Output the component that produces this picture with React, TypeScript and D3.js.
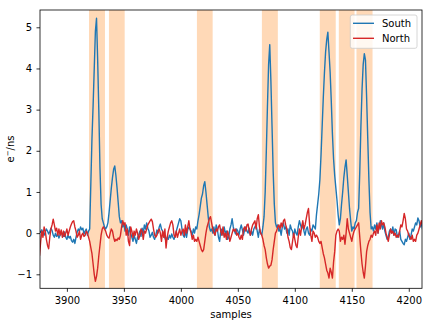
import React, { useEffect, useRef } from "react";
import * as d3 from "d3";

// sample index of the first value in each series
const firstSample = 3876;

// South detector rate (e-/ns), one value per sample
const south = [
  0.05, 0.02, 0.08, 0.0, -0.05, 0.03, 0.1, 0.05, -0.02, 0.04,
  0.12, 0.06, -0.05, -0.1, 0.0, -0.08, -0.02, -0.12, -0.05, 0.02,
  -0.04, -0.08, 0.03, -0.1, -0.15, -0.05, -0.12, -0.08, -0.18, -0.22,
  -0.15, -0.25, -0.1, 0.02, 0.1, 0.05, 0.15, 0.08, 0.12, -0.02,
  0.05, 0.1, -0.05, 0.05, 0.1, 1.2, 2.3, 3.1, 4.0, 4.9,
  5.22, 4.2, 3.0, 1.6, 0.7, 0.35, 0.25, 0.15, 0.1, 0.15,
  0.25, 0.5, 0.8, 1.1, 1.35, 1.55, 1.63, 1.4, 1.1, 0.75,
  0.4, 0.25, 0.3, 0.15, 0.25, 0.05, 0.2, 0.1, -0.05, 0.15,
  0.0, -0.1, -0.2, -0.05, -0.15, -0.25, -0.1, -0.05, 0.05, -0.08,
  0.12, 0.0, 0.2, 0.1, 0.25, 0.12, 0.05, -0.1, -0.05, 0.02,
  -0.1, -0.15, -0.05, 0.08, 0.0, 0.15, 0.22, 0.1, 0.05, -0.05,
  -0.12, -0.2, -0.1, -0.15, -0.05, -0.12, -0.02, -0.1, -0.15, -0.05,
  0.05, 0.15, 0.25, 0.35, 0.3, 0.1, -0.05, -0.1, 0.05, -0.1,
  0.08, 0.15, 0.1, 0.05, -0.05, 0.1, 0.0, 0.15, 0.1, 0.3,
  0.45, 0.65, 0.85, 0.95, 1.15, 1.25, 1.0, 0.7, 0.4, 0.15,
  0.05, 0.1, 0.0, 0.15, -0.05, 0.2, 0.1, -0.1, -0.2, 0.05,
  0.1, -0.05, 0.15, 0.0, 0.05, -0.15, -0.1, 0.1, 0.2, 0.35,
  0.15, 0.05, -0.02, 0.1, 0.05, -0.05, 0.1, 0.2, 0.08, -0.05,
  0.1, 0.15, 0.05, 0.0, 0.12, -0.05, 0.05, -0.05, 0.1, 0.15,
  0.2, 0.05, -0.1, 0.1, 0.0, -0.05, 0.15, 0.4, 1.0, 2.0,
  3.1, 4.1, 4.58, 3.7, 2.6, 1.5, 0.7, 0.25, 0.15, 0.2,
  0.05, 0.1, -0.05, 0.15, 0.25, 0.1, 0.15, 0.0, 0.1, -0.05,
  0.2, 0.1, 0.05, -0.1, 0.1, 0.0, -0.05, 0.15, 0.3, 0.2,
  0.1, 0.25, 0.05, -0.05, 0.1, 0.15, 0.0, -0.05, 0.1, 0.05,
  0.2, 0.15, 0.1, 0.45, 0.7, 0.95, 1.3, 1.9, 2.6, 3.3,
  3.9, 4.4, 4.7, 4.88, 4.4, 3.9, 3.2, 2.4, 1.8, 1.4,
  1.1, 0.8, 0.45, 0.2, 0.35, 0.7, 1.0, 1.35, 1.6, 1.78,
  1.4, 1.0, 0.6, 0.3, 0.05, 0.15, 0.1, 0.25, 0.3, 0.5,
  0.6, 1.5, 2.6, 3.5, 4.1, 4.36, 4.2, 3.3, 2.3, 1.3,
  0.5, 0.1, 0.15, 0.05, 0.2, 0.1, 0.25, 0.0, 0.15, 0.3,
  0.2, 0.1, 0.25, 0.05, -0.05, -0.15, -0.1, 0.05, 0.1, 0.0,
  0.15, -0.05, 0.1, 0.08, -0.1, -0.05, 0.05, -0.15, -0.2, -0.25,
  -0.28, -0.15, -0.2, -0.1, 0.0, -0.15, -0.05, 0.1, 0.05, 0.15,
  0.25, 0.2, 0.37, 0.3, 0.15, 0.25, 0.1, 0.15,
];

// North detector rate (e-/ns)
const north = [
  -0.55, -0.2, 0.05, -0.1, 0.15, 0.05, -0.15, -0.3, -0.38, -0.1,
  0.1, 0.2, 0.34, 0.2, 0.05, 0.12, -0.05, 0.1, -0.05, 0.08,
  -0.1, 0.05, -0.08, 0.0, 0.1, -0.05, 0.05, 0.15, 0.22, 0.28,
  0.3, 0.15, 0.05, -0.1, -0.05, 0.05, -0.15, -0.05, 0.0, -0.08,
  -0.05, 0.05, 0.0, -0.1, -0.2, -0.35, -0.5, -0.75, -1.0, -1.17,
  -1.05, -0.85, -0.55, -0.3, -0.05, 0.1, 0.15, 0.1, 0.05, -0.05,
  -0.1, -0.12, 0.0, 0.1, 0.05, -0.1, -0.2, -0.15, -0.18, -0.12,
  -0.15, -0.05, 0.15, 0.3, 0.2, 0.25, -0.05, 0.1, -0.2, -0.3,
  0.15, 0.05, -0.1, 0.05, -0.05, 0.1, 0.0, -0.15, -0.05, 0.1,
  0.05, -0.15, 0.05, 0.0, 0.1, 0.2, 0.25, 0.3, 0.34, 0.28,
  0.1, -0.05, -0.1, -0.05, 0.05, 0.1, 0.0, -0.2, 0.05, -0.1,
  0.1, -0.36, -0.1, 0.05, 0.15, 0.25, 0.3, 0.2, -0.05, -0.1,
  0.05, -0.1, 0.0, 0.1, -0.05, 0.05, 0.1, -0.05, 0.2, 0.0,
  0.15, 0.3, 0.1, 0.0, -0.15, -0.05, -0.2, -0.15, -0.2, -0.1,
  -0.2, -0.3, -0.4, -0.45, -0.4, -0.2, 0.0, 0.15, 0.25, 0.35,
  0.4, 0.25, 0.1, 0.0, -0.05, 0.1, 0.05, 0.15, 0.2, 0.05,
  -0.05, 0.15, -0.1, 0.0, -0.15, 0.05, -0.05, -0.2, -0.1, 0.0,
  0.1, 0.05, 0.1, -0.05, 0.0, -0.1, -0.15, -0.05, -0.15, 0.1,
  0.15, 0.05, 0.2, 0.22, 0.05, -0.05, 0.1, 0.2, 0.25, 0.3,
  0.1, 0.35, 0.45, 0.15, 0.0, -0.05, -0.15, -0.3, -0.4, -0.6,
  -0.75, -0.85, -0.8, -0.78, -0.65, -0.4, -0.2, 0.0, 0.05, 0.15,
  0.2, 0.1, 0.25, 0.15, 0.3, 0.34, 0.2, 0.1, -0.1, -0.2,
  -0.35, -0.4, -0.2, 0.0, -0.15, -0.3, -0.35, -0.1, 0.1, -0.05,
  0.15, 0.3, 0.1, 0.2, 0.35, 0.5, 0.6, 0.2, -0.05, -0.2,
  0.05, 0.0, -0.1, -0.05, -0.1, -0.2, -0.25, -0.2, -0.35, -0.5,
  -0.6, -0.75, -0.9, -0.97, -1.09, -0.85, -0.95, -1.09, -0.7, -0.45,
  -0.05, 0.05, 0.1, 0.05, -0.2, -0.1, -0.15, -0.05, -0.27, 0.0,
  0.35, 0.1, 0.0, -0.1, -0.2, -0.05, 0.05, 0.1, 0.15, 0.2,
  0.25, -0.1, -0.45, -0.75, -0.95, -1.09, -0.8, -0.45, -0.3, -0.2,
  -0.15, -0.05, -0.1, 0.0, 0.05, -0.05, 0.2, 0.0, 0.25, 0.1,
  0.3, 0.2, 0.25, 0.15, 0.0, -0.1, -0.2, -0.05, 0.1, 0.0,
  0.05, -0.05, 0.0, -0.1, -0.05, -0.1, 0.05, 0.2, 0.15, 0.3,
  0.48, 0.35, 0.1, 0.05, -0.05, -0.1, -0.15, -0.05, -0.2, -0.15,
  -0.2, -0.05, 0.0, 0.1, 0.2, 0.3, 0.2, 0.15,
];

// shaded windows [start, end] in samples
const spanStarts = [3919.4, 3936.9, 4014.1, 4071.1, 4121.9, 4138.6, 4154.1];
const spanEnds = [3933.4, 3950.7, 4027.9, 4085.1, 4135.9, 4152.4, 4168.2];

const xTicks = [3900, 3950, 4000, 4050, 4100, 4150, 4200];
const yTicks = [-1, 0, 1, 2, 3, 4, 5];
const seriesNames = ["South", "North"];
const seriesColors = ["#1f77b4", "#d62728"];

export default function App() {
  const ref = useRef<SVGSVGElement>(null);

  useEffect(() => {
    const svg = d3.select(ref.current);
    svg.selectAll("*").remove();
    const font = "DejaVu Sans, sans-serif";

    const left = 40, right = 422, top = 10, bottom = 288.3;
    const x = d3.scaleLinear().domain([3876.4, 4211.6]).range([left, right]);
    const y = d3.scaleLinear().domain([-1.34, 5.42]).range([bottom, top]);

    svg
      .append("defs")
      .append("clipPath")
      .attr("id", "plotclip")
      .append("rect")
      .attr("x", left)
      .attr("y", top)
      .attr("width", right - left)
      .attr("height", bottom - top);

    // shaded windows
    svg
      .append("g")
      .selectAll("rect")
      .data(spanStarts.map((s, i) => [s, spanEnds[i]]))
      .join("rect")
      .attr("x", (d) => x(d[0]))
      .attr("y", top)
      .attr("width", (d) => x(d[1]) - x(d[0]))
      .attr("height", bottom - top)
      .attr("fill", "#ffd9b7");

    const line = d3
      .line<number>()
      .x((d, i) => x(firstSample + i))
      .y((d) => y(d));

    const lines = svg.append("g").attr("clip-path", "url(#plotclip)");
    [south, north].forEach((vals, k) => {
      lines
        .append("path")
        .datum(vals)
        .attr("d", line)
        .attr("fill", "none")
        .attr("stroke", seriesColors[k])
        .attr("stroke-width", 1.4)
        .attr("stroke-linejoin", "round");
    });

    // axes
    const xAxis = svg
      .append("g")
      .attr("transform", `translate(0,${bottom})`)
      .call(d3.axisBottom(x).tickValues(xTicks).tickSize(3.5).tickPadding(5.5).tickFormat(d3.format("d")));
    const yAxis = svg
      .append("g")
      .attr("transform", `translate(${left},0)`)
      .call(d3.axisLeft(y).tickValues(yTicks).tickSize(3.5).tickPadding(4.5).tickFormat((d) => String(d).replace("-", "\u2212")));
    [xAxis, yAxis].forEach((g) => {
      g.select(".domain").remove();
      g.selectAll("line").attr("stroke", "#000").attr("stroke-width", 0.8);
      g.selectAll("text").attr("font-family", font).attr("font-size", 10).attr("fill", "#000");
    });

    // spines
    svg
      .append("rect")
      .attr("x", left)
      .attr("y", top)
      .attr("width", right - left)
      .attr("height", bottom - top)
      .attr("fill", "none")
      .attr("stroke", "#000")
      .attr("stroke-width", 0.8);

    svg
      .append("text")
      .attr("x", (left + right) / 2)
      .attr("y", 318)
      .attr("text-anchor", "middle")
      .attr("font-family", font)
      .attr("font-size", 10)
      .text("samples");

    const yl = svg
      .append("text")
      .attr("transform", "translate(14,149) rotate(-90)")
      .attr("text-anchor", "middle")
      .attr("font-family", font)
      .attr("font-size", 10);
    yl.append("tspan").text("e");
    yl.append("tspan").attr("dy", -4).attr("font-size", 7).text("\u2212");
    yl.append("tspan").attr("dy", 4).text("/ns");

    // legend
    const lg = svg.append("g");
    lg.append("rect")
      .attr("x", 350.3)
      .attr("y", 15)
      .attr("width", 66.7)
      .attr("height", 33.3)
      .attr("rx", 2)
      .attr("fill", "#fff")
      .attr("fill-opacity", 0.8)
      .attr("stroke", "#cccccc")
      .attr("stroke-width", 0.8);
    seriesNames.forEach((name, i) => {
      const cy = 23.3 + i * 15;
      lg.append("line")
        .attr("x1", 353)
        .attr("x2", 374)
        .attr("y1", cy)
        .attr("y2", cy)
        .attr("stroke", seriesColors[i])
        .attr("stroke-width", 1.4);
      lg.append("text")
        .attr("x", 382)
        .attr("y", cy + 3.6)
        .attr("font-family", font)
        .attr("font-size", 10)
        .text(name);
    });
  }, []);

  return <svg ref={ref} width={432} height={325} style={{ position: "absolute", left: 0, top: 0 }} />;
}
